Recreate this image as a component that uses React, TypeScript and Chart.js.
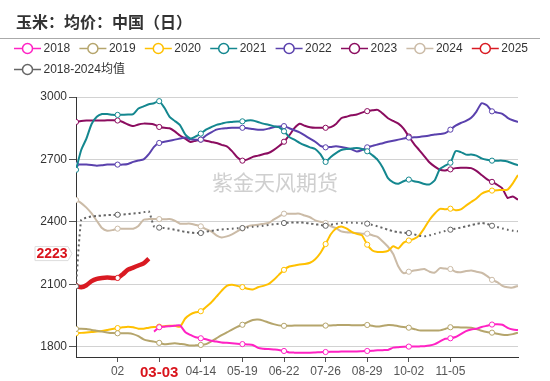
import React, { useEffect, useRef } from 'react';
import { Chart, registerables } from 'chart.js';
Chart.register(...registerables);

const titleText = '玉米：均价：中国（日）';
const watermarkText = '紫金天风期货';
const seriesNames = ['2018', '2019', '2020', '2021', '2022', '2023', '2024', '2025'];
const avgName = '2018-2024均值';

// x positions (trading-day slots), tick every 8 slots
const dayIndex = Array.from({ length: 86 }, (_, i) => i);
const xTickValues = [8, 16, 24, 32, 40, 48, 56, 64, 72];
const xTickLabels = ['02', '03-03', '04-14', '05-19', '06-22', '07-26', '08-29', '10-02', '11-05'];
const highlightTick = '03-03';
const yTickValues = [1800, 2100, 2400, 2700, 3000];

const s2018 = [null, null, null, null, null, null, null, null, null, null, null, null, null, null, null,
  1872, 1893, 1896, 1898, 1900, 1902,
  1870, 1856, 1845, 1840, 1835, 1828, 1824, 1820, 1818, 1816,
  1814, 1812, 1810, 1808, 1794, 1790, 1788, 1786, 1784, 1779,
  1772, 1771, 1771, 1771, 1771, 1772, 1773, 1774, 1775, 1775,
  1776, 1776, 1777, 1777, 1778, 1779, 1780, 1782, 1783, 1784,
  1795, 1797, 1799, 1800, 1800, 1801, 1802, 1805, 1812, 1825,
  1838, 1840, 1846, 1860, 1874, 1882, 1886, 1894, 1900, 1906,
  1907, 1905, 1890, 1882, 1880];
const s2019 = [1885, 1886, 1885, 1880, 1876, 1872, 1868, 1865, 1864, 1864,
  1864, 1860, 1850, 1835, 1828, 1824, 1818, 1811, 1814, 1816,
  1813, 1810, 1805, 1806, 1808, 1812, 1825, 1840, 1855, 1868,
  1882, 1895, 1905, 1918, 1928, 1930, 1925, 1916, 1908, 1902,
  1900, 1900, 1901, 1901, 1901, 1901, 1901, 1901, 1901, 1902,
  1903, 1904, 1904, 1903, 1903, 1903, 1904, 1900, 1897, 1900,
  1904, 1903, 1898, 1894, 1891, 1885, 1878, 1877, 1877, 1877,
  1878, 1885, 1893, 1893, 1892, 1892, 1891, 1885, 1876, 1870,
  1867, 1862, 1857, 1856, 1860, 1867];
const s2020 = [1864, 1866, 1868, 1870, 1872, 1875, 1880, 1885, 1889, 1893,
  1896, 1893, 1886, 1886, 1891, 1894, 1896, 1898, 1900, 1900,
  1896, 1935, 1955, 1965, 1970, 1990, 2012, 2040, 2068, 2092,
  2097, 2092, 2086, 2078, 2075, 2085, 2092, 2100, 2120, 2145,
  2169, 2185, 2190, 2195, 2197, 2203, 2220, 2250, 2293, 2340,
  2368, 2378, 2368, 2352, 2342, 2335, 2290, 2262, 2255, 2255,
  2260, 2282, 2272, 2300, 2310, 2318, 2335, 2370, 2410, 2440,
  2462, 2460, 2463, 2456, 2460, 2478, 2495, 2512, 2535, 2546,
  2550, 2552, 2553, 2555, 2585, 2625];
const s2021 = [2650, 2745, 2800, 2870, 2905, 2918, 2918, 2915, 2914, 2915,
  2916, 2918, 2945, 2955, 2965, 2970, 2980, 2948, 2905, 2885,
  2865, 2820, 2800, 2810, 2824, 2843, 2855, 2866, 2872, 2878,
  2880, 2882, 2883, 2887, 2887, 2880, 2872, 2867, 2860, 2855,
  2835, 2808, 2795, 2780, 2768, 2758, 2750, 2725, 2688, 2712,
  2730, 2745, 2750, 2752, 2755, 2750, 2739, 2720, 2698, 2660,
  2610, 2590, 2583, 2595, 2603, 2595, 2590, 2582, 2580, 2600,
  2655, 2670, 2684, 2740, 2735, 2723, 2723, 2718, 2705, 2698,
  2694, 2694, 2694, 2690, 2680, 2672];
const s2022 = [2675, 2675, 2675, 2673, 2670, 2672, 2675, 2675, 2675, 2675,
  2678, 2688, 2695, 2700, 2725, 2760, 2779, 2785, 2790, 2795,
  2800, 2805, 2797, 2795, 2795, 2815, 2830, 2843, 2848, 2850,
  2852, 2852, 2852, 2850, 2846, 2843, 2843, 2848, 2855, 2858,
  2860, 2850, 2840, 2830, 2815, 2800, 2785, 2765, 2758, 2760,
  2763, 2760, 2755, 2748, 2738, 2745, 2758, 2765, 2772, 2778,
  2785, 2790, 2795, 2800, 2805, 2806, 2808, 2811, 2815, 2820,
  2822, 2826, 2843, 2862, 2875, 2885, 2900, 2930, 2970, 2960,
  2931, 2925, 2919, 2900, 2888, 2880];
const s2023 = [2880, 2885, 2887, 2887, 2887, 2887, 2888, 2888, 2887, 2880,
  2868, 2860, 2868, 2872, 2871, 2868, 2856, 2852, 2850, 2835,
  2815, 2800, 2784, 2790, 2795, 2790, 2784, 2779, 2770, 2763,
  2740, 2710, 2694, 2700, 2712, 2718, 2725, 2731, 2745, 2763,
  2785, 2815, 2850, 2871, 2862, 2855, 2852, 2852, 2852, 2855,
  2870, 2898, 2905, 2912, 2916, 2925, 2932, 2936, 2938, 2920,
  2898, 2885, 2872, 2848, 2810, 2775, 2745, 2715, 2685, 2665,
  2650, 2647, 2652, 2658, 2660, 2660, 2658, 2645, 2625, 2605,
  2592, 2578, 2560, 2515, 2522, 2506];
const s2024 = [2505, 2490, 2468, 2440, 2405, 2370, 2357, 2360, 2367, 2367,
  2367, 2367, 2380, 2410, 2413, 2413, 2413, 2412, 2413, 2405,
  2391, 2391, 2391, 2385, 2378, 2365, 2354, 2335, 2325, 2330,
  2340, 2354, 2368, 2378, 2383, 2386, 2390, 2394, 2410, 2425,
  2439, 2439, 2439, 2439, 2430, 2422, 2407, 2400, 2394, 2378,
  2370, 2354, 2350, 2348, 2346, 2343, 2343, 2335, 2328, 2305,
  2280, 2245, 2185, 2153, 2160, 2166, 2170, 2173, 2160, 2156,
  2177, 2175, 2173, 2160, 2158, 2163, 2166, 2160, 2155, 2140,
  2121, 2110, 2092, 2085, 2084, 2092];
const s2025 = [2092, 2085, 2095, 2115, 2126, 2130, 2132, 2130, 2130, 2148, 2170, 2180, 2190, 2200, 2223];
const sAvg = [2090, 2410, 2420, 2426, 2428, 2430, 2432, 2433, 2434, 2435,
  2437, 2440, 2442, 2446, 2450, 2378, 2372, 2370, 2366, 2362,
  2356, 2352, 2348, 2346, 2346, 2352, 2357, 2360, 2363, 2365,
  2367, 2369, 2370, 2373, 2376, 2378, 2381, 2385, 2388, 2391,
  2394, 2396, 2397, 2397, 2395, 2392, 2388, 2385, 2381, 2386,
  2390, 2394, 2397, 2396, 2395, 2393, 2391, 2385, 2378, 2370,
  2362, 2355, 2350, 2347, 2346, 2340, 2333, 2330, 2335, 2342,
  2349, 2356, 2362, 2367, 2372, 2378, 2384, 2390, 2394, 2390,
  2381, 2375, 2368, 2362, 2357, 2354];

const seriesData = [s2018, s2019, s2020, s2021, s2022, s2023, s2024, s2025];
const seriesColors = ['#ff22c4', '#b5a56c', '#ffc000', '#14878f', '#5a41ad', '#8b0c5f', '#cbbba7', '#d91a22'];
const avgColor = '#666666';

const FF = '"Liberation Sans", Arial, "Noto Sans CJK SC", sans-serif';

export default function App() {
  const ref = useRef<HTMLCanvasElement | null>(null);
  useEffect(() => {
    document.body.style.margin = '0';
    const canvas = ref.current;
    if (!canvas) return;

    const markerRadius = (data: (number | null)[]) => (c: any) =>
      c.dataIndex % 8 === 0 && data[c.dataIndex] != null ? 2.6 : 0;

    const datasets: any[] = seriesNames.map((name, k) => ({
      label: name,
      data: seriesData[k],
      borderColor: seriesColors[k],
      backgroundColor: seriesColors[k],
      borderWidth: name === '2025' ? 4.5 : 2,
      pointRadius: markerRadius(seriesData[k]),
      pointBackgroundColor: '#ffffff',
      pointBorderColor: seriesColors[k],
      pointBorderWidth: 1,
      pointHoverRadius: 0,
      tension: 0.2,
      order: name === '2025' ? 1 : 2,
    }));
    datasets.push({
      label: avgName,
      data: sAvg,
      borderColor: avgColor,
      backgroundColor: avgColor,
      borderWidth: 2,
      borderDash: [2, 3],
      pointRadius: markerRadius(sAvg),
      pointBackgroundColor: '#ffffff',
      pointBorderColor: avgColor,
      pointBorderWidth: 1,
      pointHoverRadius: 0,
      tension: 0.2,
      order: 0,
    });

    const overlay = {
      id: 'overlay',
      beforeDatasetsDraw(chart: any) {
        const ctx = chart.ctx;
        ctx.save();
        ctx.font = '21px "Noto Sans CJK SC", sans-serif';
        ctx.fillStyle = 'rgba(195,195,195,0.8)';
        ctx.textAlign = 'center';
        ctx.textBaseline = 'middle';
        ctx.fillText(watermarkText, 275, 182);
        ctx.restore();
      },
      afterDraw(chart: any) {
        const ctx = chart.ctx;
        ctx.save();
        // title
        ctx.font = 'bold 16px "Noto Sans CJK SC", sans-serif';
        ctx.fillStyle = '#333333';
        ctx.textAlign = 'left';
        ctx.textBaseline = 'middle';
        ctx.fillText(titleText, 16, 22);
        // separator
        ctx.strokeStyle = '#aaaaaa';
        ctx.lineWidth = 1;
        ctx.beginPath();
        ctx.moveTo(0, 38.5);
        ctx.lineTo(540, 38.5);
        ctx.stroke();
        // legend
        const items = chart.data.datasets.map((d: any) => ({ label: d.label, color: d.borderColor }));
        items.forEach((it: any, idx: number) => {
          const row = idx < 8 ? 0 : 1;
          const col = idx < 8 ? idx : idx - 8;
          const x = 14 + col * 65.4;
          const y = row === 0 ? 48.5 : 69.5;
          ctx.strokeStyle = it.color;
          ctx.lineWidth = 1.5;
          ctx.beginPath();
          ctx.moveTo(x, y);
          ctx.lineTo(x + 27, y);
          ctx.stroke();
          ctx.beginPath();
          ctx.arc(x + 13.5, y, 5, 0, Math.PI * 2);
          ctx.fillStyle = '#ffffff';
          ctx.fill();
          ctx.stroke();
          ctx.fillStyle = '#333333';
          ctx.font = '12px ' + FF;
          ctx.textAlign = 'left';
          ctx.textBaseline = 'middle';
          ctx.fillText(it.label, x + 29.5, y + 0.5);
        });
        // current value tag
        const last = s2025[s2025.length - 1];
        const yy = chart.scales.y.getPixelForValue(last) - 5;
        ctx.beginPath();
        ctx.moveTo(35, yy - 7);
        ctx.lineTo(68, yy - 7);
        ctx.lineTo(72, yy);
        ctx.lineTo(68, yy + 7);
        ctx.lineTo(35, yy + 7);
        ctx.closePath();
        ctx.fillStyle = '#ffffff';
        ctx.fill();
        ctx.strokeStyle = '#dddddd';
        ctx.lineWidth = 1;
        ctx.stroke();
        ctx.fillStyle = '#d9141c';
        ctx.font = 'bold 14px ' + FF;
        ctx.textAlign = 'center';
        ctx.textBaseline = 'middle';
        ctx.fillText(String(last), 52, yy + 0.5);
        ctx.restore();
      },
    };

    const chart = new Chart(canvas, {
      type: 'line',
      data: { labels: dayIndex, datasets },
      plugins: [overlay],
      options: {
        responsive: false,
        animation: false,
        devicePixelRatio: 1,
        layout: { padding: { top: 97, right: 32, bottom: 0, left: 0 } },
        plugins: {
          legend: { display: false },
          title: { display: false },
          tooltip: { enabled: false },
        },
        scales: {
          x: {
            type: 'linear',
            min: 0,
            max: 85,
            afterBuildTicks: (s: any) => {
              s.ticks = xTickValues.map((v) => ({ value: v }));
            },
            afterFit: (s: any) => {
              s.height = 24;
            },
            ticks: {
              autoSkip: false,
              maxRotation: 0,
              padding: 2,
              callback: (v: any) => {
                const i = xTickValues.indexOf(Number(v));
                return i >= 0 ? xTickLabels[i] : '';
              },
              color: (c: any) => (xTickLabels[xTickValues.indexOf(c.tick?.value)] === highlightTick ? '#d9141c' : '#555555'),
              font: (c: any) =>
                xTickLabels[xTickValues.indexOf(c.tick?.value)] === highlightTick
                  ? { size: 15, weight: 'bold', family: FF }
                  : { size: 12, family: FF },
            },
            grid: { drawOnChartArea: false, tickLength: 5, color: '#555555', tickColor: '#555555' },
            border: { color: '#333333', width: 1 },
          },
          y: {
            min: 1750,
            max: 3000,
            afterBuildTicks: (s: any) => {
              s.ticks = yTickValues.map((v) => ({ value: v }));
            },
            afterFit: (s: any) => {
              s.width = 76;
            },
            ticks: {
              color: '#333333',
              padding: 2,
              font: { size: 12, family: FF },
              callback: (v: any) => String(v),
            },
            grid: { color: '#d2d2d2', tickColor: '#555555', tickLength: 7 },
            border: { color: '#333333', width: 1 },
          },
        },
      },
    } as any);
    return () => chart.destroy();
  }, []);

  return (
    <div style={{ width: 550, height: 381 }}>
      <canvas ref={ref} width={550} height={381} style={{ display: 'block' }} />
    </div>
  );
}
